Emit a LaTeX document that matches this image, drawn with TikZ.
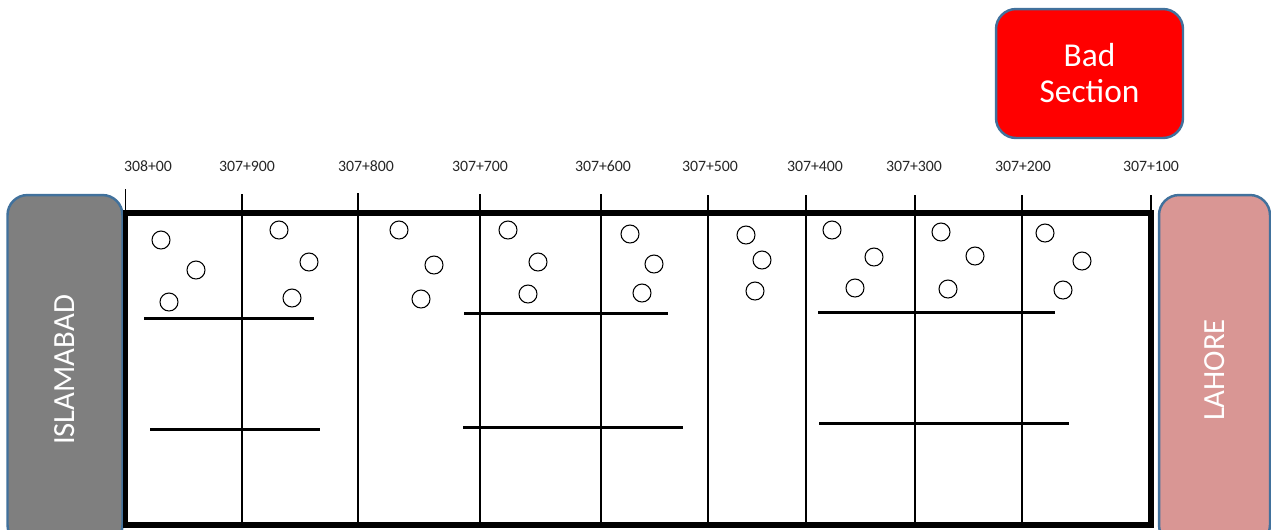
\documentclass[tikz,border=0pt]{standalone}
\usepackage{fontspec}
\setmainfont{Carlito}
\usepackage{xcolor}
\usepackage{tikz}
\usetikzlibrary{positioning}

\definecolor{edgeblue}{RGB}{65,113,156}
\definecolor{citygray}{RGB}{127,127,127}
\definecolor{citypink}{RGB}{217,150,148}

\begin{document}
\begin{tikzpicture}[
    x=0.02cm, y=-0.02cm,
    city/.style={rectangle, draw=edgeblue, line width=1.4pt, rounded corners=0.4cm, text=white, rotate=90, font=\fontsize{17.5}{20}\selectfont, inner sep=0pt},
    badbox/.style={rectangle, draw=edgeblue, line width=1.4pt, rounded corners=0.4cm, fill=red, text=white, align=center, font=\fontsize{19}{20.5}\selectfont, minimum width=3.74cm, minimum height=2.58cm},
    chainage/.style={font=\fontsize{9}{11}\selectfont, text=black!85, inner sep=1pt},
    hole/.style={circle, draw, line width=0.6pt, minimum size=0.36cm, inner sep=0pt},
    tickline/.style={line width=0.6pt},
    bar/.style={line width=1.7pt},
    frame/.style={line width=3.2pt}
]
    \useasboundingbox (0,0) rectangle (1271,529);

    % Cities
    \node (isb) [city, fill=citygray, minimum width=7cm, minimum height=2.3cm] at (65,370) {ISLAMABAD};
    \node (lhr) [city, fill=citypink, minimum width=7cm, minimum height=2.22cm] at (1214.5,370) {LAHORE};

    % Bad section
    \node (bad) [badbox] at (1089.5,73.5) {Bad\\Section};

    % Chainage labels
    \foreach \lx/\txt [count=\i] in {148/308+00, 247/307+900, 366/307+800, 480/307+700, 603/307+600, 710/307+500, 815/307+400, 914/307+300, 1023/307+200, 1151/307+100}
        \node (km\i) [chainage] at (\lx,166) {\txt};

    % Ticks and section lines
    \foreach \tx/\ty in {125.5/189, 242/194, 358/193, 480/194, 601/194, 708/195, 806/195, 915/195, 1022/195, 1151/195}
        \draw [tickline] (\tx,\ty) -- (\tx,525);

    % Road frame
    \draw [frame] (125.5,213) rectangle (1151,525);

    % Potholes
    \foreach \cx/\cy [count=\i] in {161/240, 196/270, 169/302, 279/230, 309/262, 292/298, 399/230, 434/265, 421/299, 508/230, 538/262, 528/294, 630/234, 654/264, 642/293, 746/235, 762/260, 755/291, 832/230, 874/257, 855/288, 941/232, 975/256, 948/289, 1045/233, 1082/261, 1063/290}
        \node (pit\i) [hole] at (\cx,\cy) {};

    % Cracks
    \draw [bar] (144,318) -- (314,318);
    \draw [bar] (150,429) -- (320,429);
    \draw [bar] (464,313) -- (668,313);
    \draw [bar] (463,427) -- (683,427);
    \draw [bar] (818,312) -- (1055,312);
    \draw [bar] (819,423) -- (1069,423);

\end{tikzpicture}
\end{document}
